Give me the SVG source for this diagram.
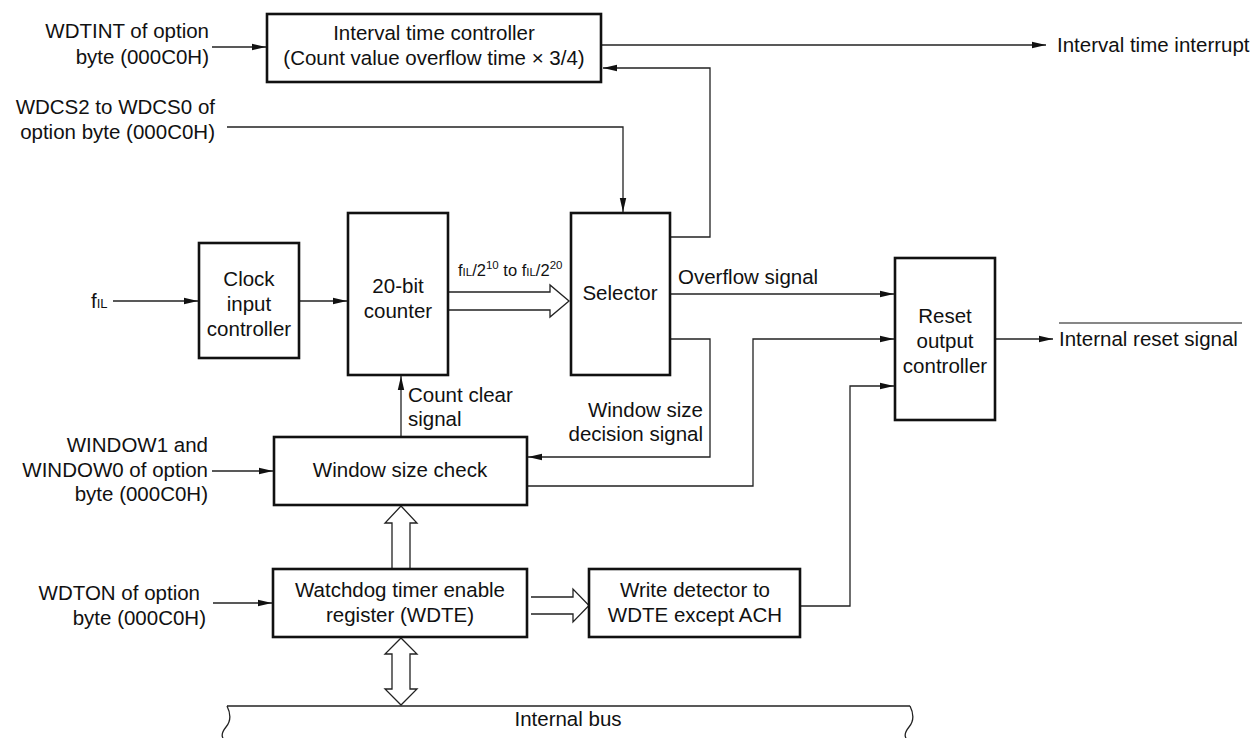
<svg xmlns="http://www.w3.org/2000/svg" width="1257" height="738" viewBox="0 0 1257 738">
<style>
text{font-family:"Liberation Sans",Arial,sans-serif;font-size:20.5px;fill:#111}
.box{fill:#fff;stroke:#111;stroke-width:2.6}
.ln{fill:none;stroke:#222;stroke-width:1.3}
.bus{fill:#fff;stroke:#222;stroke-width:1.3}
.m{text-anchor:middle}
.e{text-anchor:end}
.sub{font-size:13px}
.sup{font-size:12px}
</style>
<defs>
<marker id="ah" viewBox="0 0 14 8" refX="14" refY="4" markerWidth="14" markerHeight="8" markerUnits="userSpaceOnUse" orient="auto">
<path d="M0,0.8 L14,4 L0,7.2 Z" fill="#111"/>
</marker>
</defs>
<rect width="1257" height="738" fill="#fff"/>

<g id="connectors">
<line class="ln" x1="212" y1="47" x2="266" y2="47" marker-end="url(#ah)"/>
<line class="ln" x1="601" y1="45" x2="1046" y2="45" marker-end="url(#ah)"/>
<polyline class="ln" points="670,237 710,237 710,68 603,68" marker-end="url(#ah)"/>
<polyline class="ln" points="227,127 623,127 623,212" marker-end="url(#ah)"/>
<line class="ln" x1="113" y1="301" x2="198" y2="301" marker-end="url(#ah)"/>
<line class="ln" x1="299" y1="301" x2="347" y2="301" marker-end="url(#ah)"/>
<line class="ln" x1="670" y1="294" x2="894" y2="294" marker-end="url(#ah)"/>
<polyline class="ln" points="670,339 710,339 710,457 528,457" marker-end="url(#ah)"/>
<polyline class="ln" points="527,486 753,486 753,339 894,339" marker-end="url(#ah)"/>
<polyline class="ln" points="800,606 850,606 850,386 894,386" marker-end="url(#ah)"/>
<line class="ln" x1="995" y1="339" x2="1053" y2="339" marker-end="url(#ah)"/>
<line class="ln" x1="401" y1="437" x2="401" y2="376" marker-end="url(#ah)"/>
<line class="ln" x1="212" y1="471" x2="273" y2="471" marker-end="url(#ah)"/>
<line class="ln" x1="213" y1="603" x2="272" y2="603" marker-end="url(#ah)"/>
<path class="bus" d="M448,292 H550 V285 L569,301 L550,317 V310 H448"/>
<path class="bus" d="M392,569 V523 H385 L401,506 L417,523 H410 V569"/>
<path class="bus" d="M531,597 H573 V589 L589,605.5 L573,622 V614 H531"/>
<path class="bus" d="M392,654 H385 L401,638 L417,654 H410 V689 H417 L401,705 L385,689 H392 Z"/>
<path class="ln" d="M227,706 H910"/>
<path class="ln" d="M227,706 C231,714 231,721 226,727 C222,732 221,735 223,738"/>
<path class="ln" d="M910,706 C914,714 914,721 909,727 C905,732 904,735 906,738"/>
<line x1="1059" y1="323" x2="1242" y2="323" stroke="#111" stroke-width="1.2"/>
</g>

<g id="labels">
<text class="e" x="209" y="38">WDTINT of option</text>
<text class="e" x="209" y="64">byte (000C0H)</text>
<text class="e" x="215" y="114">WDCS2 to WDCS0 of</text>
<text class="e" x="215" y="139">option byte (000C0H)</text>
<text x="1057" y="52">Interval time interrupt</text>
<text x="91" y="308">f<tspan class="sub">IL</tspan></text>
<text x="458" y="276" style="font-size:16.5px">f<tspan class="sub" style="font-size:11.5px">IL</tspan>/2<tspan class="sup" dy="-7" style="font-size:11.5px">10</tspan><tspan dy="7"> to f</tspan><tspan class="sub" style="font-size:11.5px">IL</tspan>/2<tspan class="sup" dy="-7" style="font-size:11.5px">20</tspan></text>
<text x="678" y="284">Overflow signal</text>
<text x="408" y="402">Count clear</text>
<text x="408" y="426">signal</text>
<text class="e" x="703" y="417">Window size</text>
<text class="e" x="703" y="441">decision signal</text>
<text class="e" x="208" y="452">WINDOW1 and</text>
<text class="e" x="208" y="477">WINDOW0 of option</text>
<text class="e" x="208" y="501">byte (000C0H)</text>
<text class="e" x="200" y="600">WDTON of option</text>
<text class="e" x="206" y="625">byte (000C0H)</text>
<text x="1059" y="346">Internal reset signal</text>
<text class="m" x="568" y="726">Internal bus</text>
</g>

<g id="interval-time-controller">
<rect class="box" x="267" y="14" width="334" height="68"/>
<text class="m" x="434" y="40">Interval time controller</text>
<text class="m" x="434" y="65">(Count value overflow time × 3/4)</text>
</g>
<g id="clock-input-controller">
<rect class="box" x="199" y="243" width="100" height="115"/>
<text class="m" x="249" y="286">Clock</text>
<text class="m" x="249" y="311">input</text>
<text class="m" x="249" y="336">controller</text>
</g>
<g id="counter">
<rect class="box" x="348" y="213" width="100" height="162"/>
<text class="m" x="398" y="293">20-bit</text>
<text class="m" x="398" y="318">counter</text>
</g>
<g id="selector">
<rect class="box" x="571" y="213" width="99" height="162"/>
<text class="m" x="620" y="300">Selector</text>
</g>
<g id="reset-output-controller">
<rect class="box" x="895" y="258" width="100" height="162"/>
<text class="m" x="945" y="323">Reset</text>
<text class="m" x="945" y="348">output</text>
<text class="m" x="945" y="373">controller</text>
</g>
<g id="window-size-check">
<rect class="box" x="274" y="437" width="253" height="68"/>
<text class="m" x="400" y="477">Window size check</text>
</g>
<g id="wdte">
<rect class="box" x="273" y="569" width="254" height="68"/>
<text class="m" x="400" y="597">Watchdog timer enable</text>
<text class="m" x="400" y="622">register (WDTE)</text>
</g>
<g id="write-detector">
<rect class="box" x="589" y="569" width="211" height="68"/>
<text class="m" x="695" y="597">Write detector to</text>
<text class="m" x="695" y="622">WDTE except ACH</text>
</g>
</svg>
